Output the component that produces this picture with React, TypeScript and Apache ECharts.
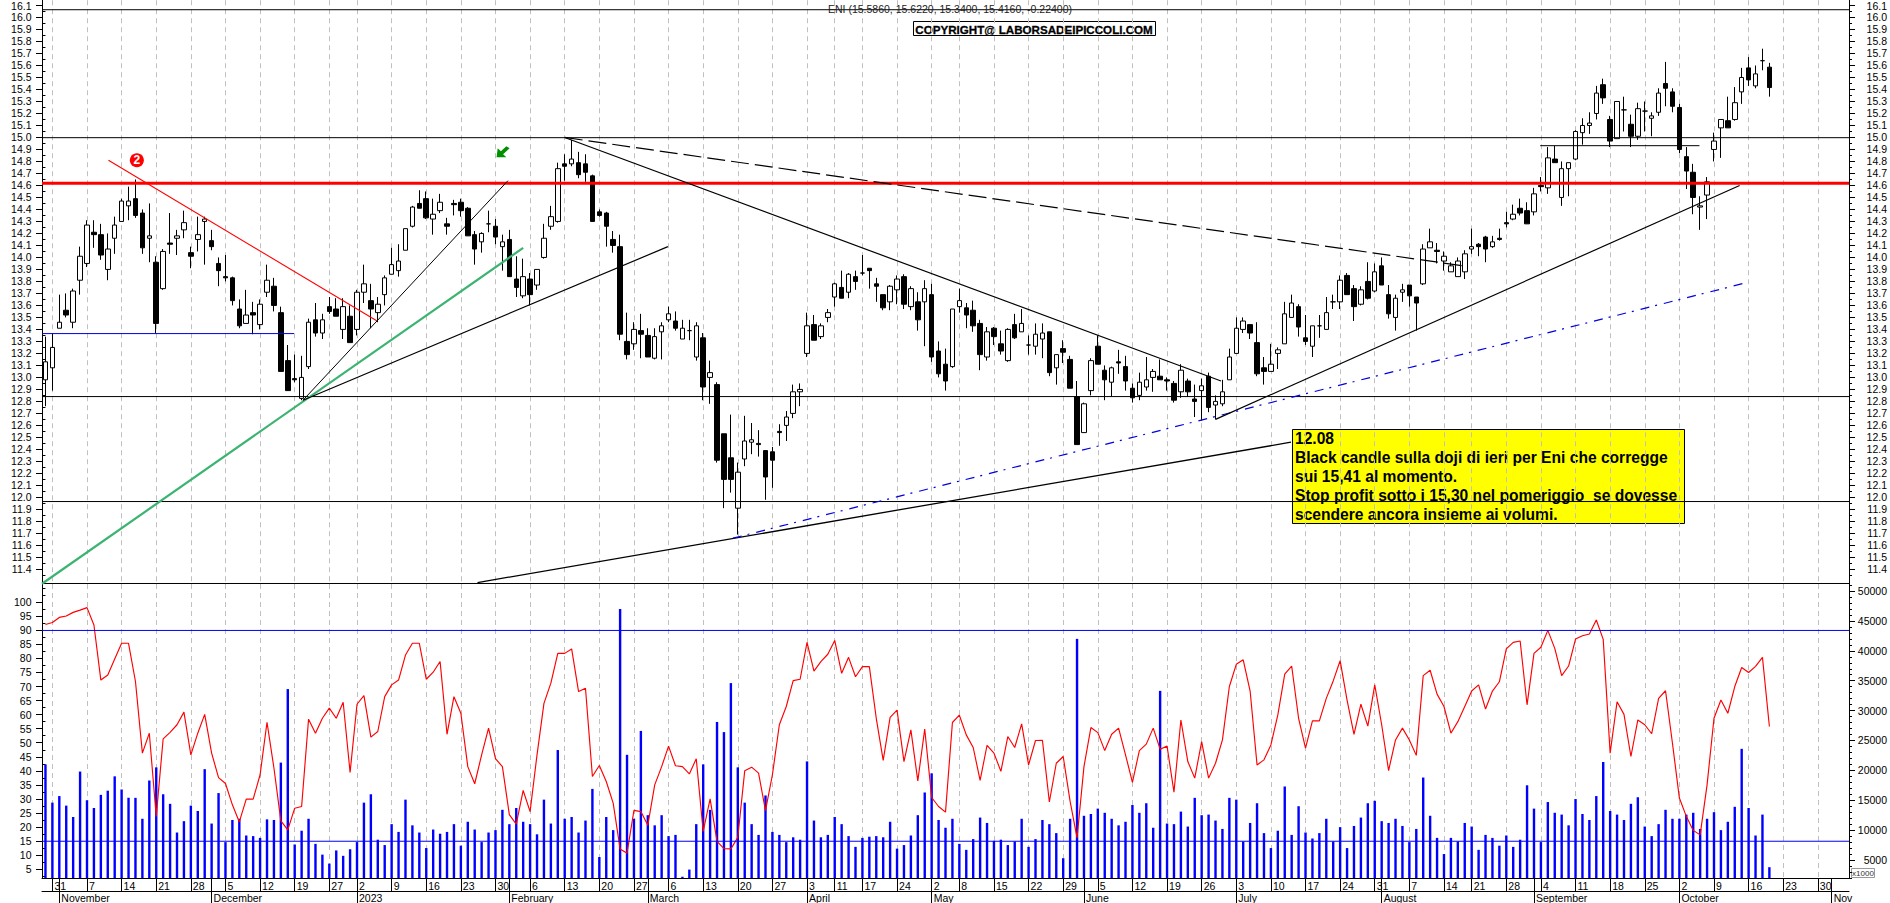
import React, { useEffect, useRef } from "react";
import * as echarts from "echarts";

const priceLabels = ["11.4","11.5","11.6","11.7","11.8","11.9","12.0","12.1","12.2","12.3","12.4","12.5","12.6","12.7","12.8","12.9","13.0","13.1","13.2","13.3","13.4","13.5","13.6","13.7","13.8","13.9","14.0","14.1","14.2","14.3","14.4","14.5","14.6","14.7","14.8","14.9","15.0","15.1","15.2","15.3","15.4","15.5","15.6","15.7","15.8","15.9","16.0","16.1"];
const rsiLabels = ["5","10","15","20","25","30","35","40","45","50","55","60","65","70","75","80","85","90","95","100"];
const volumeLabels = ["5000","10000","15000","20000","25000","30000","35000","40000","45000","50000"];

const weekTicks: [number, string][] = [[1,"31"],[6,"7"],[11,"14"],[16,"21"],[21,"28"],[26,"5"],[31,"12"],[36,"19"],[41,"27"],[45,"2"],[50,"9"],[55,"16"],[60,"23"],[65,"30"],[70,"6"],[75,"13"],[80,"20"],[85,"27"],[90,"6"],[95,"13"],[100,"20"],[105,"27"],[110,"3"],[114,"11"],[118,"17"],[123,"24"],[128,"2"],[132,"8"],[137,"15"],[142,"22"],[147,"29"],[152,"5"],[157,"12"],[162,"19"],[167,"26"],[172,"3"],[177,"10"],[182,"17"],[187,"24"],[192,"31"],[197,"7"],[202,"14"],[206,"21"],[211,"28"],[216,"4"],[221,"11"],[226,"18"],[231,"25"],[236,"2"],[241,"9"],[246,"16"],[251,"23"],[256,"30"]];
const monthTicks: [number, string][] = [[2,"November"],[24,"December"],[45,"2023"],[67,"February"],[87,"March"],[110,"April"],[128,"May"],[150,"June"],[172,"July"],[193,"August"],[215,"September"],[236,"October"],[258,"Nov"]];

const barSlots = 261;

// open, close, low, high
const candles: number[][] = [
[12.98,13.13,12.76,13.34],[13.08,13.25,12.89,13.37],[13.41,13.46,13.41,13.69],[13.56,13.52,13.50,13.70],[13.46,13.72,13.41,13.74],
[13.81,14.01,13.69,14.09],[13.95,14.27,13.92,14.31],[14.21,14.19,14.08,14.31],[14.19,14.02,13.98,14.28],[13.90,14.07,13.81,14.20],
[14.16,14.27,14.03,14.34],[14.30,14.47,14.30,14.49],[14.43,14.47,14.31,14.59],[14.49,14.35,14.33,14.65],[14.37,14.08,14.03,14.40],
[14.16,14.18,13.96,14.45],[13.96,13.45,13.37,14.01],[13.74,14.05,13.73,14.07],[14.12,14.11,14.03,14.37],[14.16,14.18,14.02,14.23],
[14.23,14.29,14.16,14.39],[14.04,14.01,13.91,14.09],[14.15,14.19,14.05,14.34],[14.30,14.32,13.94,14.34],[14.14,14.09,14.06,14.23],
[13.95,13.89,13.76,14.00],[13.84,13.83,13.80,14.02],[13.83,13.64,13.60,13.84],[13.57,13.43,13.41,13.65],[13.45,13.52,13.45,13.73],
[13.54,13.52,13.36,13.63],[13.44,13.61,13.40,13.65],[13.71,13.81,13.67,13.94],[13.76,13.60,13.55,13.83],[13.54,13.05,13.05,13.59],
[13.14,12.89,12.89,13.27],[12.99,12.98,12.96,13.19],[12.825,13.00,12.81,13.18],[13.09,13.46,13.07,13.49],[13.48,13.37,13.34,13.62],
[13.37,13.48,13.32,13.53],[13.59,13.55,13.53,13.67],[13.57,13.51,13.51,13.66],[13.40,13.59,13.32,13.66],[13.51,13.29,13.29,13.60],
[13.40,13.71,13.35,13.73],[13.71,13.78,13.62,13.94],[13.64,13.57,13.41,13.78],[13.54,13.61,13.46,13.67],[13.69,13.83,13.60,13.85],
[13.86,13.94,13.86,14.08],[13.89,13.97,13.84,14.11],[14.06,14.24,14.06,14.24],[14.26,14.42,14.25,14.43],[14.45,14.41,14.41,14.56],
[14.49,14.33,14.32,14.55],[14.32,14.36,14.19,14.49],[14.39,14.46,14.37,14.53],[14.28,14.26,14.19,14.33],[14.45,14.44,14.35,14.48],
[14.46,14.39,14.34,14.49],[14.41,14.18,14.18,14.42],[14.19,14.07,13.94,14.22],[14.13,14.20,14.04,14.21],[14.28,14.28,14.21,14.39],
[14.26,14.17,14.11,14.32],[14.09,14.13,13.89,14.19],[14.15,13.84,13.84,14.23],[13.82,13.75,13.67,14.01],[13.68,13.84,13.66,13.99],
[13.82,13.69,13.60,13.87],[13.77,13.90,13.73,13.90],[14.00,14.16,13.99,14.28],[14.26,14.34,14.23,14.43],[14.30,14.74,14.29,14.79],
[14.78,14.76,14.64,14.86],[14.78,14.82,14.76,14.98],[14.79,14.69,14.66,14.88],[14.78,14.71,14.63,14.86],[14.68,14.30,14.30,14.69],
[14.38,14.35,14.34,14.40],[14.37,14.26,14.09,14.38],[14.15,14.10,14.04,14.22],[14.09,13.36,13.31,14.19],[13.30,13.19,13.15,13.54],
[13.28,13.40,13.23,13.46],[13.39,13.36,13.16,13.53],[13.35,13.17,13.17,13.41],[13.16,13.34,13.15,13.41],[13.38,13.43,13.15,13.46],
[13.48,13.53,13.46,13.59],[13.47,13.41,13.39,13.55],[13.32,13.41,13.32,13.48],[13.39,13.39,13.31,13.48],[13.17,13.43,13.14,13.46],
[13.33,12.92,12.81,13.37],[13.00,13.04,12.78,13.14],[12.94,12.31,12.29,12.96],[12.53,12.15,11.91,12.53],[12.33,12.15,12.04,12.69],
[11.91,12.21,11.69,12.29],[12.32,12.47,12.26,12.68],[12.46,12.48,12.36,12.62],[12.45,12.44,12.34,12.56],[12.39,12.17,11.98,12.39],
[12.38,12.31,12.08,12.42],[12.55,12.54,12.43,12.61],[12.60,12.67,12.47,12.72],[12.70,12.88,12.66,12.94],[12.88,12.90,12.76,12.95],
[13.20,13.43,13.17,13.54],[13.44,13.31,13.31,13.52],[13.34,13.43,13.32,13.45],[13.50,13.54,13.46,13.57],[13.67,13.78,13.59,13.79],
[13.75,13.66,13.66,13.89],[13.71,13.86,13.66,13.87],[13.84,13.80,13.73,13.89],[13.87,13.87,13.85,14.02],[13.91,13.89,13.74,13.91],
[13.78,13.76,13.63,13.83],[13.69,13.58,13.56,13.69],[13.63,13.76,13.56,13.77],[13.73,13.82,13.61,13.85],[13.84,13.61,13.57,13.86],
[13.59,13.74,13.56,13.76],[13.63,13.48,13.39,13.71],[13.63,13.74,13.26,13.81],[13.69,13.17,13.13,13.78],[13.22,13.03,13.00,13.30],
[13.11,12.97,12.89,13.24],[13.09,13.57,13.08,13.57],[13.59,13.64,13.54,13.74],[13.58,13.52,13.41,13.62],[13.56,13.43,13.38,13.64],
[13.45,13.19,13.06,13.48],[13.17,13.38,13.14,13.42],[13.41,13.34,13.27,13.42],[13.28,13.22,13.19,13.39],[13.14,13.40,13.13,13.41],
[13.44,13.33,13.32,13.53],[13.38,13.45,13.38,13.57],[13.27,13.27,13.19,13.35],[13.26,13.36,13.19,13.45],[13.32,13.37,13.16,13.45],
[13.38,13.04,13.01,13.38],[13.08,13.19,12.94,13.19],[13.24,13.21,13.12,13.31],[13.15,12.91,12.91,13.18],[12.84,12.44,12.44,12.97],
[12.54,12.78,12.54,12.79],[12.89,13.14,12.85,13.16],[13.26,13.11,13.11,13.35],[13.06,12.98,12.81,13.10],[12.96,13.08,12.84,13.09],
[13.13,13.12,13.03,13.23],[13.09,12.97,12.89,13.18],[12.91,12.83,12.79,12.95],[12.85,12.96,12.81,13.04],[12.92,12.98,12.89,13.17],
[13.00,13.05,12.88,13.07],[13.01,12.98,12.98,13.15],[12.98,12.97,12.89,13.00],[12.95,12.81,12.79,12.97],[12.88,13.06,12.83,13.11],
[12.97,12.88,12.84,12.99],[12.82,12.80,12.67,12.94],[12.89,12.93,12.64,12.99],[13.01,12.75,12.71,13.04],[12.77,12.80,12.65,12.85],
[12.78,12.88,12.76,12.98],[12.98,13.17,12.98,13.24],[13.20,13.41,13.20,13.50],[13.40,13.47,13.37,13.50],[13.44,13.37,13.32,13.44],
[13.29,13.03,13.01,13.46],[13.08,13.05,12.94,13.17],[13.05,13.11,13.05,13.28],[13.20,13.23,13.07,13.25],[13.28,13.53,13.28,13.63],
[13.50,13.62,13.50,13.69],[13.59,13.42,13.34,13.61],[13.33,13.30,13.27,13.52],[13.26,13.43,13.17,13.43],[13.43,13.43,13.33,13.52],
[13.40,13.54,13.40,13.67],[13.63,13.63,13.57,13.69],[13.63,13.81,13.57,13.85],[13.85,13.69,13.69,13.87],[13.74,13.59,13.47,13.77],
[13.61,13.73,13.60,13.76],[13.80,13.66,13.65,13.96],[13.72,13.88,13.71,13.95],[13.93,13.77,13.77,14.00],[13.69,13.53,13.49,13.77],
[13.50,13.66,13.39,13.69],[13.71,13.73,13.63,13.78],[13.77,13.68,13.59,13.77],[13.67,13.62,13.39,13.67],[13.78,14.07,13.77,14.11],
[14.08,14.13,14.08,14.24],[14.06,14.05,13.95,14.12],[13.97,14.01,13.89,14.05],[13.88,13.93,13.88,13.96],[13.84,13.97,13.84,14.00],
[13.88,14.03,13.82,14.06],[14.07,14.09,14.03,14.24],[14.11,14.09,14.01,14.12],[14.17,14.07,13.96,14.18],[14.09,14.13,14.08,14.18],
[14.16,14.15,14.14,14.24],[14.29,14.28,14.25,14.38],[14.32,14.36,14.31,14.44],[14.41,14.37,14.35,14.49],[14.39,14.28,14.28,14.46],
[14.38,14.53,14.35,14.58],[14.60,14.59,14.55,14.67],[14.58,14.83,14.53,14.92],[14.82,14.79,14.79,14.93],[14.50,14.74,14.43,14.80],
[14.74,14.79,14.51,14.79],[14.82,15.05,14.81,15.06],[15.04,15.10,14.94,15.16],[15.10,15.12,15.03,15.21],[15.20,15.37,15.15,15.43],
[15.44,15.33,15.28,15.49],[15.15,14.97,14.92,15.18],[14.99,15.30,14.99,15.30],[15.23,15.23,15.05,15.34],[15.11,15.01,14.92,15.19],
[15.01,15.24,14.98,15.29],[15.22,15.22,15.05,15.30],[15.16,15.18,15.01,15.21],[15.21,15.37,15.18,15.41],[15.45,15.41,15.26,15.63],
[15.38,15.26,15.21,15.41],[15.25,14.90,14.87,15.28],[14.84,14.72,14.57,14.92],[14.71,14.50,14.36,14.78],[14.42,14.43,14.23,14.51],
[14.52,14.63,14.32,14.67],[14.90,14.97,14.80,15.04],[15.08,15.15,14.83,15.15],[15.14,15.08,15.08,15.34],[15.15,15.29,15.14,15.42],
[15.38,15.50,15.28,15.58],[15.58,15.48,15.43,15.67],[15.43,15.53,15.41,15.60],[15.64,15.64,15.56,15.74],[15.586,15.416,15.34,15.622],
];

const rsi: number[] = [
92.1,92.8,94.6,95.1,96.4,97.2,98.1,91.9,72.3,74.1,79.8,85.4,85.4,71.8,46.3,53.4,23.8,51.4,53.7,56.4,
60.9,45.7,53.4,60.1,46.3,37.6,35.5,27.9,21.8,29.9,29.9,38.6,57.3,41.0,22.2,19.0,26.7,27.3,58.4,53.4,
58.7,62.3,58.7,64.4,39.4,63.7,66.8,52.0,54.0,66.4,70.6,72.3,81.2,85.4,85.4,72.6,75.1,78.9,53.0,66.4,
60.5,41.5,35.4,45.7,55.2,44.3,41.5,24.4,21.0,33.0,25.5,45.7,64.0,71.2,81.8,81.8,83.4,68.2,69.4,38.0,
41.9,36.2,28.5,12.2,10.7,25.9,25.5,20.6,35.0,41.5,48.8,41.8,41.5,38.9,44.3,18.4,30.0,14.9,12.3,12.2,
16.3,40.0,41.3,39.2,25.8,38.6,56.4,62.9,72.1,72.6,85.7,75.5,78.9,81.5,86.4,74.7,80.4,73.5,77.1,77.1,
58.7,43.7,59.0,61.6,43.3,54.6,36.4,54.9,30.5,27.3,25.3,57.2,59.8,52.8,48.3,36.6,49.1,46.3,39.8,52.2,
48.3,56.7,42.1,50.8,50.9,28.9,42.7,45.1,29.1,16.1,41.5,55.4,53.6,47.2,53.0,55.2,45.7,35.9,47.2,49.5,
55.2,47.7,48.8,32.4,58.1,43.3,37.4,50.4,37.4,42.7,51.0,70.0,77.9,79.5,68.4,42.1,43.9,49.2,59.9,74.4,
77.3,58.7,48.1,57.8,57.8,65.8,72.0,79.2,65.2,53.0,63.7,55.9,70.6,56.4,40.1,51.0,55.2,51.0,45.5,73.9,
75.8,67.3,62.9,53.4,57.5,62.9,68.4,70.6,62.0,68.4,71.7,83.4,85.7,86.2,63.5,81.8,84.0,90.0,83.6,73.9,
77.3,86.9,88.1,88.7,93.7,86.8,46.3,64.6,60.1,45.1,58.1,56.4,53.2,65.8,68.5,49.8,30.3,23.8,18.8,17.2,
35.0,58.7,65.2,60.5,70.0,76.8,75.0,77.2,80.4,55.8,
];

const volumes: number[] = [
21000,14600,15700,14100,12200,19800,15000,13700,15900,16600,19000,16800,15400,15400,11900,18300,20500,16000,14400,9600,
11500,14100,13200,20200,11100,16200,8000,11700,11900,9100,9000,8700,11800,11700,21300,33600,7600,9900,11900,7700,
5900,4400,6600,5700,6800,8000,14600,16000,8400,7500,11000,9700,15100,10800,9600,7000,10100,9400,9700,11000,
7400,11400,10100,8000,9600,10000,13400,11000,13700,11400,11000,9300,15100,11100,23400,11900,12200,9600,11600,16900,
5500,12200,10000,47000,22600,11900,26600,12500,10800,12500,9000,9200,2200,3400,11000,21000,13400,28100,26400,34600,
20500,14600,11000,9200,15800,9700,9200,8000,8800,8400,21500,11600,8800,9200,12200,11000,9000,7200,8700,8900,
9000,8800,11400,6900,7500,9100,12500,16300,19500,11700,10400,11900,7700,6700,8500,12100,11200,8200,8400,7500,
8100,11900,7200,8500,11700,11000,9500,5300,11900,42000,12400,12700,13600,12900,11900,10800,11400,14200,12900,14500,
10400,33300,11100,11000,13100,10600,15400,12500,12600,11600,10200,15400,15100,8100,11200,14500,9500,7000,9900,17300,
9200,14000,9600,8600,9500,11900,8100,10500,7000,10700,12100,14500,14900,11500,11200,11900,10700,8000,10200,18800,
12400,8700,6000,8700,8100,11200,10600,6700,9200,8700,7400,9100,7200,8400,17500,13600,8000,14700,12900,12600,
10800,15200,12700,11700,15700,21400,13200,12600,11700,14400,15500,10600,9000,11000,13400,11900,11900,12600,12900,10200,
11900,13000,10000,11400,13900,23600,13700,9100,12600,3800,
];

// trend lines: [barIndex, price] pairs
const levelLines = [16.0648, 14.9983, 12.8403, 11.9654, 11.2822];
const resistanceLevel = 14.6192;
const supportSegment = [[-0.5, 13.3653], [35.9, 13.3653]];
const redTrend = [[9.1, 14.81], [47.9, 13.47]];
const greenTrend = [[-0.5, 11.28], [69, 14.08]];
const fanSteep = [[37.2, 12.81], [66.8, 14.64]];
const fanShallow = [[37.2, 12.81], [89.9, 14.09]];
const longDown = [[75, 15.0], [169.8, 12.97]];
const dashedDown = [[75, 15.0], [204.8, 13.93]];
const lowerChannel = [[62.4, 11.29], [179.9, 12.46]];
const bluePivot = [[99.3, 11.66], [245.7, 13.79]];
const upTrend = [[169, 12.65], [244.7, 14.6]];
const topShelf = [[215.9, 14.9316], [238.9, 14.9316]];
const rsiLevels = [89.965, 14.936];
const badgePoint = [13.2, 14.81];
const arrowPoint = [66.1, 14.88];

const titleText = "ENI (15.5860, 15.6220, 15.3400, 15.4160, -0.22400)";
const copyrightText = "COPYRIGHT@ LABORSADEIPICCOLI.COM";
const noteLines = [
  "12.08",
  "Black candle sulla doji di ieri per Eni che corregge",
  "sui 15,41 al momento.",
  "Stop profit sotto i 15,30 nel pomeriggio  se dovesse",
  "scendere ancora insieme ai volumi.",
];

const FONT = "'Liberation Sans', Arial, sans-serif";
const AXIS_LEFT = 42;
const AXIS_RIGHT = 1849;
const PRICE_MIN = 11.278;
const PRICE_MAX = 16.144;
const RSI_MIN = 1.85;
const RSI_MAX = 106.5;
const VOL_MIN = 1990;
const VOL_MAX = 51180;

function yPair(grid: number, side: "left" | "right", min: number, max: number, major: number[], labels: boolean, minor: number[], fmt: (v: number) => string) {
  const shared = { type: "value", gridIndex: grid, position: side, min, max, splitLine: { show: false } };
  return [
    {
      ...shared,
      axisLine: { show: true, onZero: false, lineStyle: { color: "#000", width: 1 } },
      axisTick: { show: true, customValues: major, length: 6, lineStyle: { color: "#000" } },
      axisLabel: {
        show: labels, customValues: major, formatter: fmt, color: "#000", fontFamily: FONT, fontSize: 10.5,
        align: "right", margin: side === "left" ? 10.5 : 38,
      },
    },
    {
      ...shared,
      axisLine: { show: false },
      axisTick: { show: true, customValues: minor, length: 3, lineStyle: { color: "#000" } },
      axisLabel: { show: false },
    },
  ];
}

function plainLine(name: string, xAxisIndex: number, yAxisIndex: number, data: number[][], color: string, width: number, type: any = "solid") {
  return {
    name, type: "line", xAxisIndex, yAxisIndex, data, symbol: "none", silent: true, z: 4,
    lineStyle: { color, width, type },
  };
}

export default function App() {
  const ref = useRef<HTMLDivElement>(null);
  useEffect(() => {
    const chart = echarts.init(ref.current!, undefined, { renderer: "svg" });
    const weekSet = new Set(weekTicks.map((t) => t[0]));
    const monthSet = new Set(monthTicks.map((t) => t[0]));
    const dayCats = Array.from({ length: barSlots }, (_, i) => weekTicks.find((t) => t[0] === i)?.[1] ?? "");
    const monthCats = Array.from({ length: barSlots }, (_, i) => monthTicks.find((t) => t[0] === i)?.[1] ?? "");
    const gridLine = { show: true, alignWithLabel: true, interval: (i: number) => weekSet.has(i), lineStyle: { color: "#c0c0c0", type: [5, 4], width: 1 } };

    const priceMajor = priceLabels.map(Number);
    const priceMinor = [...priceMajor.map((v) => v - 0.05), 16.15];
    const rsiMajor = rsiLabels.map(Number);
    const rsiMinor = [...rsiMajor.map((v) => v - 2.5), 102.5, 105];
    const volMajor = volumeLabels.map(Number);
    const volMinor: number[] = [];
    for (let v = 2000; v <= 51000; v += 1000) volMinor.push(v);

    const yAxis = [
      ...yPair(0, "left", PRICE_MIN, PRICE_MAX, priceMajor, true, priceMinor, (v) => v.toFixed(1)),
      ...yPair(0, "right", PRICE_MIN, PRICE_MAX, priceMajor, true, priceMinor, (v) => v.toFixed(1)),
      ...yPair(1, "left", RSI_MIN, RSI_MAX, rsiMajor, true, rsiMinor, (v) => String(v)),
      ...yPair(1, "right", VOL_MIN, VOL_MAX, volMajor, true, volMinor, (v) => String(v)),
    ];

    const option: any = {
      animation: false,
      backgroundColor: "#fff",
      grid: [
        { left: AXIS_LEFT, right: 1890 - AXIS_RIGHT, top: 0, height: 584 },
        { left: AXIS_LEFT, right: 1890 - AXIS_RIGHT, top: 584, height: 294.3 },
      ],
      xAxis: [
        {
          type: "category", gridIndex: 0, data: dayCats, boundaryGap: true,
          axisLine: { show: false }, axisTick: { show: false }, axisLabel: { show: false }, splitLine: gridLine,
        },
        {
          type: "category", gridIndex: 1, data: dayCats, boundaryGap: true, position: "bottom",
          axisLine: { onZero: false, lineStyle: { color: "#000" } },
          axisTick: { show: true, alignWithLabel: true, length: 13, interval: (i: number) => weekSet.has(i) || monthSet.has(i), lineStyle: { color: "#000" } },
          axisLabel: { show: true, interval: (i: number) => weekSet.has(i), align: "left", margin: 2, padding: [0, 0, 0, 2], color: "#000", fontFamily: FONT, fontSize: 10.5 },
          splitLine: gridLine,
        },
        {
          type: "category", gridIndex: 1, data: monthCats, boundaryGap: true, position: "bottom", offset: 13,
          axisLine: { onZero: false, lineStyle: { color: "#000" } },
          axisTick: { show: true, alignWithLabel: true, length: 12, interval: (i: number) => monthSet.has(i), lineStyle: { color: "#000" } },
          axisLabel: { show: true, interval: (i: number) => monthSet.has(i), align: "left", margin: 1, padding: [0, 0, 0, 2], color: "#000", fontFamily: FONT, fontSize: 10.5 },
          splitLine: { show: false },
        },
        { type: "value", gridIndex: 0, show: false, min: -0.5, max: barSlots - 0.5 },
        { type: "value", gridIndex: 1, show: false, min: -0.5, max: barSlots - 0.5 },
      ],
      yAxis,
      graphic: [
        { type: "text", left: 828, top: 3, z: 20, style: { text: titleText, font: `10.5px ${FONT}`, fill: "#222" } },
        {
          type: "group", left: 913, top: 21, z: 20,
          children: [
            { type: "rect", shape: { x: 0.5, y: 0.5, width: 242, height: 14 }, style: { fill: "#fff", stroke: "#000", lineWidth: 1 } },
            { type: "text", x: 121, y: 8, style: { text: copyrightText, font: "bold 11.6px 'Liberation Sans', Arial, sans-serif", fill: "#000", stroke: "#000", lineWidth: 0.3, align: "center", verticalAlign: "middle" } },
          ],
        },
        {
          type: "group", left: 1292, top: 429, z: 20,
          children: [
            { type: "rect", shape: { x: 0.5, y: 0.5, width: 392, height: 94 }, style: { fill: "#ffff00", stroke: "#000", lineWidth: 1 } },
            ...noteLines.map((t, i) => ({
              type: "text", x: 3, y: 9.5 + i * 19,
              style: { text: t, font: `bold 15.6px ${FONT}`, fill: "#000", verticalAlign: "middle" },
            })),
          ],
        },
        {
          type: "group", left: 1851, top: 868, z: 20,
          children: [
            { type: "rect", shape: { x: 0.5, y: 0.5, width: 23, height: 9 }, style: { fill: "#fff", stroke: "#999", lineWidth: 1 } },
            { type: "text", x: 12, y: 5, style: { text: "x1000", font: `8px ${FONT}`, fill: "#333", align: "center", verticalAlign: "middle" } },
          ],
        },
      ],
      series: [
        {
          name: "ENI", type: "candlestick", xAxisIndex: 0, yAxisIndex: 0, data: candles, barWidth: 5, silent: true, z: 3,
          itemStyle: { color: "#fff", color0: "#000", borderColor: "#000", borderColor0: "#000", borderWidth: 1 },
        },
        ...levelLines.map((v, i) => plainLine(`level${i}`, 3, 0, [[-0.5, v], [barSlots - 0.5, v]], "#000", 1)),
        plainLine("resistance", 3, 0, [[-0.5, resistanceLevel], [barSlots - 0.5, resistanceLevel]], "#ff0000", 3),
        plainLine("support", 3, 0, supportSegment, "#0000e0", 1),
        plainLine("redTrend", 3, 0, redTrend, "#ff0000", 1.1),
        plainLine("greenTrend", 3, 0, greenTrend, "#3cb371", 2.2),
        plainLine("fanSteep", 3, 0, fanSteep, "#000", 1),
        plainLine("fanShallow", 3, 0, fanShallow, "#000", 1.2),
        plainLine("longDown", 3, 0, longDown, "#000", 1.2),
        plainLine("dashedDown", 3, 0, dashedDown, "#000", 1.2, [18, 6]),
        plainLine("lowerChannel", 3, 0, lowerChannel, "#000", 1.3),
        plainLine("bluePivot", 3, 0, bluePivot, "#0000e0", 1.2, [9, 6, 2, 7]),
        plainLine("upTrend", 3, 0, upTrend, "#000", 1.2),
        plainLine("topShelf", 3, 0, topShelf, "#000", 1),
        {
          name: "badge", type: "scatter", xAxisIndex: 3, yAxisIndex: 0, data: [badgePoint], symbol: "circle", symbolSize: 14, silent: true, z: 6,
          itemStyle: { color: "#ff0000", opacity: 1 },
          label: { show: true, position: "inside", formatter: "2", color: "#fff", fontFamily: FONT, fontWeight: "bold", fontSize: 12 },
        },
        {
          name: "arrow", type: "scatter", xAxisIndex: 3, yAxisIndex: 0, data: [arrowPoint], silent: true, z: 6,
          symbol: "path://M13 2 L10 0 L5 5 L2 2 L1 11 L10 11 L7 8 Z", symbolSize: [13, 11],
          itemStyle: { color: "#009000", opacity: 1 },
        },
        {
          name: "volume", type: "bar", xAxisIndex: 1, yAxisIndex: 6, data: volumes, barWidth: 2.4, silent: true, z: 2,
          itemStyle: { color: "#0000ff" },
        },
        {
          name: "rsi", type: "line", xAxisIndex: 1, yAxisIndex: 4, data: rsi, symbol: "none", silent: true, z: 3,
          lineStyle: { color: "#ff0000", width: 1.15 },
        },
        ...rsiLevels.map((v, i) => plainLine(`rsiLevel${i}`, 4, 4, [[-0.5, v], [barSlots - 0.5, v]], "#0000ff", 1)),
      ],
    };
    chart.setOption(option);
    return () => chart.dispose();
  }, []);
  return <div ref={ref} style={{ position: "fixed", left: 0, top: 0, width: 1890, height: 903 }} />;
}
